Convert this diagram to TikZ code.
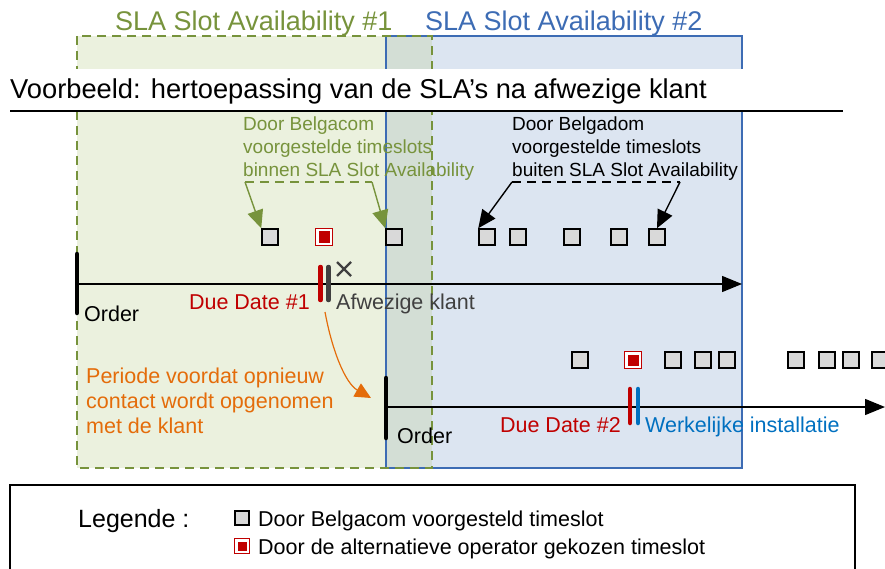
\documentclass[tikz,border=0pt]{standalone}
\usepackage{fontspec}
\setmainfont{Liberation Sans}
\usetikzlibrary{arrows.meta}
\definecolor{ggreen}{RGB}{119,147,60}
\definecolor{gfill}{RGB}{235,241,222}
\definecolor{bblue}{RGB}{61,108,180}
\definecolor{bfill}{RGB}{220,229,241}
\definecolor{ofill}{RGB}{211,222,213}
\definecolor{dred}{RGB}{192,0,0}
\definecolor{orng}{RGB}{228,108,10}
\definecolor{iblue}{RGB}{0,112,192}
\definecolor{dgray}{RGB}{64,64,64}
\definecolor{sgray}{RGB}{217,217,217}
\tikzset{
  gslot/.style={draw=black,line width=1.5pt,fill=sgray,minimum size=16pt,inner sep=0pt},
  rslot/.style={draw=dred,line width=0.9pt,fill=white,minimum size=17pt,inner sep=0pt,
     path picture={\fill[dred] ([shift={(3pt,3pt)}]path picture bounding box.south west) rectangle ([shift={(-3pt,-3pt)}]path picture bounding box.north east);}},
  lbl/.style={inner sep=0pt,anchor=base west,font=\fontsize{21.5}{22}\selectfont},
  ann/.style={inner sep=0pt,anchor=base west,font=\fontsize{19}{23}\selectfont,align=left},
  bar/.style={line width=4.5pt,line cap=round},
  tbar/.style={line width=4.5pt,line cap=round},
  bigarrow/.style={-{Triangle[length=20pt,width=16pt]},line width=1.4pt},
  annarrow/.style={line width=1.4pt,-{Triangle[length=18pt,width=16pt]}},
}
\begin{document}
\begin{tikzpicture}[x=1pt,y=-1pt]
\useasboundingbox (0,0) rectangle (885,569);
% boxes
\fill[gfill] (77,36) rectangle (432,468);
\fill[bfill] (386,36) rectangle (742,468);
\fill[ofill] (386,36) rectangle (432,468);
\draw[bblue,line width=1.2pt] (386,36) rectangle (742,468);
\draw[ggreen,line width=1.5pt,dash pattern=on 9pt off 6pt] (77,36) rectangle (432,468);
% white band and title
\fill[white] (0,69) rectangle (885,110);
\node[inner sep=0pt,anchor=base west,font=\fontsize{27.3}{28}\selectfont] (title) at (10,99) {Voorbeeld: hertoepassing van de SLA’s na afwezige klant};
\draw[line width=1.8pt] (10,111) -- (843,111);
\node[inner sep=0pt,anchor=base west,font=\fontsize{27}{28}\selectfont,text=ggreen] (sla1) at (115,31) {SLA Slot Availability \#1};
\node[inner sep=0pt,anchor=base west,font=\fontsize{27}{28}\selectfont,text=bblue] (sla2) at (425,31) {SLA Slot Availability \#2};
% timeline 1
\coordinate (t1s) at (77,284);
\coordinate (t1e) at (742,284);
\draw[bigarrow] (t1s) -- (t1e);
\draw[bar] (77,254) -- (77,313);
\node[lbl] (order1) at (84,321) {Order};
\draw[tbar,dred] (320.5,267) -- (320.5,300);
\draw[tbar,dgray] (328.5,267) -- (328.5,300);
\coordinate (xa) at (337,262);
\coordinate (xb) at (351,276);
\coordinate (xc) at (351,262);
\coordinate (xd) at (337,276);
\draw[dgray,line width=2.4pt] (xa) -- (xb) (xc) -- (xd);
\node[lbl,anchor=base east,text=dred] (dd1) at (310,309) {Due Date \#1};
\node[lbl,text=dgray] (afw) at (336,309) {Afwezige klant};
% slots row 1
\node[gslot] (s1) at (270,237) {};
\node[rslot] (r1) at (324,237) {};
\node[gslot] (s2) at (394,237) {};
\node[gslot] (s3) at (487,237) {};
\node[gslot] (s4) at (518,237) {};
\node[gslot] (s5) at (572,237) {};
\node[gslot] (s6) at (619,237) {};
\node[gslot] (s7) at (657,237) {};
% green annotation
\node[ann,text=ggreen] (ga) at (243,177) {Door Belgacom\\voorgestelde timeslots\\binnen SLA Slot Availability};
\coordinate (gl) at (245,182);
\coordinate (gr) at (372,182);
\draw[ggreen,line width=1.4pt,dash pattern=on 9pt off 6pt] (gl) -- (gr);
\draw[ggreen,annarrow] (gl) -- (s1.north west);
\draw[ggreen,annarrow] (gr) -- (s2.north west);
% black annotation
\node[ann] (ba) at (512,177) {Door Belgadom\\voorgestelde timeslots\\buiten SLA Slot Availability};
\coordinate (bl) at (512,182);
\coordinate (br) at (680,182);
\draw[line width=1.4pt,dash pattern=on 9pt off 6pt] (bl) -- (br);
\draw[annarrow] (bl) -- (s3.north west);
\draw[annarrow] (br) -- (s7.north);
% timeline 2
\coordinate (t2s) at (386,407);
\coordinate (t2e) at (885,407);
\draw[bigarrow] (t2s) -- (t2e);
\draw[bar] (386,378) -- (386,438);
\node[lbl] (order2) at (397,443) {Order};
\draw[tbar,dred] (630,389) -- (630,423);
\draw[tbar,iblue] (638,389) -- (638,423);
\node[lbl,anchor=base east,text=dred] (dd2) at (621,432) {Due Date \#2};
\node[lbl,text=iblue] (wi) at (645,432) {Werkelijke installatie};
% slots row 2
\node[gslot] (u1) at (580,360) {};
\node[rslot] (r2) at (633,360) {};
\node[gslot] (u2) at (673,360) {};
\node[gslot] (u3) at (703,360) {};
\node[gslot] (u4) at (727,360) {};
\node[gslot] (u5) at (796,360) {};
\node[gslot] (u6) at (827,360) {};
\node[gslot] (u7) at (851,360) {};
\node[gslot] (u8) at (880,360) {};
% orange
\node[inner sep=0pt,anchor=base west,font=\fontsize{21.5}{25}\selectfont,align=left,text=orng] (per) at (86,433) {Periode voordat opnieuw\\contact wordt opgenomen\\met de klant};
\coordinate (oa) at (325,312);
\coordinate (ob) at (371,398);
\draw[orng,line width=1.2pt,-{Triangle[length=16pt,width=15pt]}] (oa) .. controls (332,350) and (345,383) .. (ob);
% legend
\draw[line width=1.2pt] (10,575) -- (10,485) -- (855,485) -- (855,575);
\node[inner sep=0pt,anchor=base west,font=\fontsize{25}{26}\selectfont] (leg) at (78,527) {Legende :};
\node[gslot,minimum size=14pt,line width=1.2pt] (lg) at (242,518) {};
\node[rslot,minimum size=15pt] (lr) at (242,546) {};
\node[inner sep=0pt,anchor=base west,font=\fontsize{21.5}{22}\selectfont] (lgt) at (258,526) {Door Belgacom voorgesteld timeslot};
\node[inner sep=0pt,anchor=base west,font=\fontsize{21.5}{22}\selectfont] (lrt) at (258,554) {Door de alternatieve operator gekozen timeslot};
\end{tikzpicture}
\end{document}
